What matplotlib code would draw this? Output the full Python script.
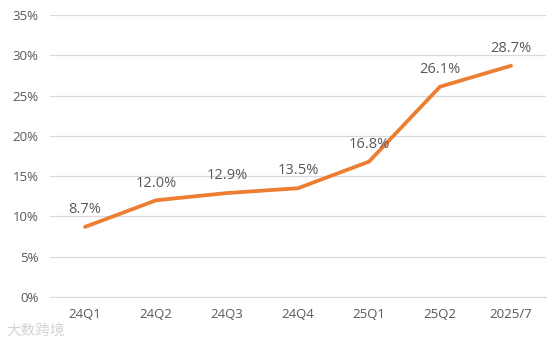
import matplotlib.pyplot as plt
import numpy as np

categories = ['24Q1', '24Q2', '24Q3', '24Q4', '25Q1', '25Q2', '2025/7']
share = [8.7, 12.0, 12.9, 13.5, 16.8, 26.1, 28.7]
yticks = [0, 5, 10, 15, 20, 25, 30, 35]

plt.rcParams['font.family'] = ['Open Sans', 'Noto Sans CJK SC', 'DejaVu Sans']

fig = plt.figure(figsize=(5.59, 3.4), dpi=100)
ax = fig.add_axes([0.0886, 0.1265, 0.889, 0.8294])

x = np.arange(len(categories))
ax.plot(x, share, color='#ED7D31', linewidth=2.7, solid_capstyle='round', zorder=3)

for xi, v in zip(x, share):
    ax.annotate(f'{v:.1f}%', (xi, v), xytext=(0, 7), textcoords='offset points',
                ha='center', va='bottom', fontsize=10.5, color='#595959')

ax.set_xlim(-0.5, len(categories) - 0.5)
ax.set_ylim(0, 35)
ax.set_yticks(yticks)
ax.set_yticklabels([f'{t}%' for t in yticks])
ax.set_xticks(x)
ax.set_xticklabels(categories)
ax.grid(axis='y', color='#D9D9D9', linewidth=0.9)
ax.set_axisbelow(True)
for s in ['top', 'right', 'left']:
    ax.spines[s].set_visible(False)
ax.spines['bottom'].set_color('#D9D9D9')
ax.tick_params(length=0, labelsize=9.5, colors='#595959')
ax.tick_params(axis='x', pad=8)
ax.tick_params(axis='y', pad=8)

fig.text(0.012, 0.015, '大数跨境', fontsize=10.5, color='#CFCFCF', alpha=0.9,
         family=['Noto Sans CJK SC', 'DejaVu Sans'])

fig.savefig('out.png', dpi=100)
